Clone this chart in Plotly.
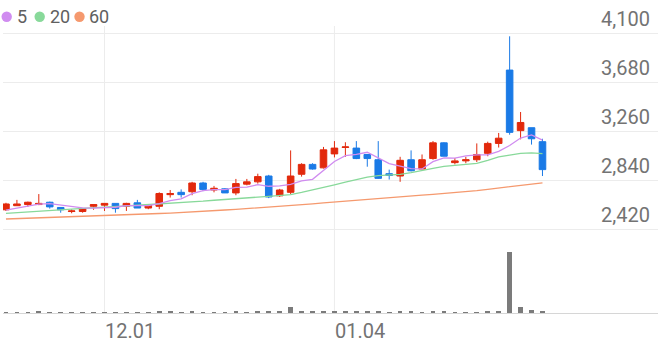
import plotly.graph_objects as go

# ---------------- data ----------------
dates = [
    "2023-11-20", "2023-11-21", "2023-11-22", "2023-11-23", "2023-11-24",
    "2023-11-27", "2023-11-28", "2023-11-29", "2023-11-30", "2023-12-01",
    "2023-12-04", "2023-12-05", "2023-12-06", "2023-12-07", "2023-12-08",
    "2023-12-11", "2023-12-12", "2023-12-13", "2023-12-14", "2023-12-15",
    "2023-12-18", "2023-12-19", "2023-12-20", "2023-12-21", "2023-12-22",
    "2023-12-26", "2023-12-27", "2023-12-28", "2024-01-02", "2024-01-03",
    "2024-01-04", "2024-01-05", "2024-01-08", "2024-01-09", "2024-01-10",
    "2024-01-11", "2024-01-12", "2024-01-15", "2024-01-16", "2024-01-17",
    "2024-01-18", "2024-01-19", "2024-01-22", "2024-01-23", "2024-01-24",
    "2024-01-25", "2024-01-26", "2024-01-29", "2024-01-30", "2024-01-31",
]

open_ = [2585, 2620, 2630, 2630, 2650, 2605, 2570, 2570, 2615, 2625,
         2640, 2615, 2645, 2600, 2615, 2715, 2735, 2740, 2815, 2755,
         2765, 2730, 2805, 2825, 2875, 2705, 2735, 2890, 2975, 2945,
         3065, 3120, 3115, 3060, 3015, 2895, 2875, 3015, 2935, 3025,
         3160, 2990, 3005, 3015, 3070, 3155, 3785, 3265, 3290, 3170]
high = [2645, 2670, 2655, 2720, 2655, 2605, 2590, 2600, 2630, 2640,
        2640, 2645, 2670, 2630, 2735, 2755, 2760, 2825, 2825, 2790,
        2770, 2850, 2850, 2895, 2885, 2765, 3095, 2985, 2985, 3125,
        3175, 3165, 3175, 3065, 3175, 2930, 3040, 3095, 3060, 3175,
        3165, 3030, 3040, 3155, 3170, 3245, 4075, 3425, 3290, 3195]
low = [2575, 2620, 2610, 2625, 2595, 2560, 2555, 2560, 2585, 2575,
       2560, 2575, 2600, 2590, 2590, 2690, 2690, 2710, 2745, 2735,
       2730, 2710, 2795, 2810, 2685, 2695, 2720, 2870, 2930, 2940,
       3035, 3040, 3020, 2955, 2850, 2845, 2825, 2915, 2935, 3015,
       3045, 2975, 2985, 2995, 3045, 3120, 3230, 3190, 3145, 2875]
close = [2635, 2635, 2650, 2640, 2610, 2585, 2575, 2595, 2630, 2640,
         2595, 2640, 2600, 2630, 2725, 2725, 2715, 2815, 2760, 2770,
         2730, 2810, 2825, 2870, 2695, 2755, 2875, 2975, 2935, 3100,
         3115, 3125, 3025, 3025, 2855, 2880, 3010, 2920, 3015, 3160,
         3045, 3005, 3015, 3060, 3155, 3200, 3250, 3335, 3195, 2930]

ma5 = [2583, 2600, 2617, 2634, 2638, 2624, 2612, 2601, 2599, 2605,
       2607, 2620, 2620, 2620, 2638, 2664, 2679, 2723, 2749, 2758,
       2759, 2778, 2780, 2801, 2787, 2791, 2804, 2833, 2847, 2927,
       3000, 3050, 3061, 3079, 3030, 2982, 2959, 2938, 2936, 2998,
       3031, 3029, 3049, 3057, 3057, 3087, 3137, 3201, 3228, 3183]
ma20 = [2555, 2560, 2566, 2572, 2578, 2584, 2590, 2597, 2604, 2611,
        2615, 2619, 2624, 2629, 2634, 2640, 2645, 2651, 2659, 2667,
        2675, 2682, 2688, 2694, 2700, 2706, 2716, 2734, 2754, 2776,
        2799, 2822, 2846, 2866, 2878, 2884, 2890, 2905, 2920, 2940,
        2958, 2968, 2976, 2984, 3010, 3040, 3055, 3070, 3074, 3068]
ma60 = [2506, 2509, 2512, 2515, 2518, 2521, 2524, 2527, 2530, 2533,
        2537, 2541, 2545, 2549, 2553, 2557, 2561, 2566, 2571, 2577,
        2583, 2589, 2595, 2601, 2607, 2614, 2621, 2628, 2636, 2644,
        2652, 2660, 2668, 2676, 2684, 2692, 2699, 2705, 2711, 2717,
        2724, 2731, 2739, 2749, 2760, 2771, 2783, 2794, 2806, 2817]

volume = [100, 80, 90, 150, 110, 90, 80, 90, 100, 120,
          130, 110, 140, 100, 220, 150, 130, 190, 140, 120,
          110, 180, 130, 160, 220, 170, 900, 250, 210, 330,
          200, 170, 190, 150, 250, 130, 210, 170, 140, 190,
          150, 100, 90, 140, 190, 160, 9000, 850, 400, 260]

price_ticks = [2420, 2840, 3260, 3680, 4100]
date_ticks = ["2023-12-01", "2024-01-04"]
date_tick_labels = ["12.01", "01.04"]
legend_labels = ["5", "20", "60"]

# ---------------- style / layout ----------------
W, H = 658, 342
ML, MR, MT, MB = 3, 0, 0, 29
PW = W - ML - MR
PH = H - MT - MB


def px_x(p):
    return (p - ML) / PW


def px_y(p):
    return (H - MB - p) / PH


RED = "#e2290c"
BLUE = "#1a7ae6"
PURPLE = "#d08cf0"
GREEN = "#88d99a"
ORANGE = "#f5996e"
GRID = "#ececec"
FONT = "Roboto"
TXT = "#737373"

fig = go.Figure()
fig.add_trace(go.Candlestick(
    x=dates, open=open_, high=high, low=low, close=close,
    xaxis="x", yaxis="y",
    increasing=dict(line=dict(color=RED, width=1), fillcolor=RED),
    decreasing=dict(line=dict(color=BLUE, width=1), fillcolor=BLUE),
    whiskerwidth=0, showlegend=False, hoverinfo="skip",
))
for vals, col in [(ma60, ORANGE), (ma20, GREEN), (ma5, PURPLE)]:
    fig.add_trace(go.Scatter(
        x=dates, y=vals, mode="lines", xaxis="x", yaxis="y",
        line=dict(color=col, width=1.3), showlegend=False, hoverinfo="skip",
    ))
fig.add_trace(go.Bar(
    x=dates, y=volume, xaxis="x2", yaxis="y2",
    marker=dict(color="#7b7b7b", line=dict(width=0)), width=0.43,
    showlegend=False, hoverinfo="skip",
))

split = px_y(240)
xr = [-0.27, 59.55]
common_x = dict(
    type="category", range=xr, showgrid=False,
    tickvals=date_ticks, ticktext=date_tick_labels, zeroline=False,
    ticks="", rangeslider=dict(visible=False), fixedrange=True,
)
fig.update_layout(
    width=W, height=H,
    margin=dict(l=ML, r=MR, t=MT, b=MB, pad=0),
    paper_bgcolor="white", plot_bgcolor="white",
    font=dict(family=FONT, size=18, color=TXT),
    boxgap=0.25, boxgroupgap=0.2,
    bargap=0,
    xaxis=dict(common_x, anchor="y", domain=[0, 1], showticklabels=False, showline=False),
    xaxis2=dict(common_x, anchor="y2", domain=[0, 1], matches="x", showticklabels=True,
                ticklabelposition="outside right", showline=True, linecolor="#d6d6d6",
                linewidth=1, tickfont=dict(family=FONT, size=20, color=TXT)),
    yaxis=dict(domain=[split, 1], range=[2325.5, 2420 + (229 - MT) * 8.589], side="right",
               tickvals=price_ticks, tickformat=",", ticklabelposition="inside",
               ticklabelshift=-14, ticklabelstandoff=5,
               showgrid=True, gridcolor=GRID, gridwidth=1, zeroline=False, showline=False,
               ticks="", tickfont=dict(family=FONT, size=20, color=TXT), fixedrange=True),
    yaxis2=dict(domain=[0, split], range=[0, 10700], showgrid=False, showticklabels=False,
                zeroline=False, showline=False, ticks="", fixedrange=True),
    showlegend=False,
)

# vertical date gridlines (from volume baseline up to the top of the price area)
for d in date_ticks:
    fig.add_shape(type="line", xref="x2", yref="paper", x0=d, x1=d,
                  y0=0, y1=px_y(26), layer="below",
                  line=dict(color=GRID, width=1))

# legend (circles + labels)
leg_circles = [(6.7, PURPLE), (39.7, GREEN), (79.5, ORANGE)]
leg_text_x = [17.0, 50.0, 89.0]
for (cx, col), tx, lab in zip(leg_circles, leg_text_x, legend_labels):
    fig.add_shape(type="circle", xref="paper", yref="paper",
                  x0=px_x(cx - 5.2), x1=px_x(cx + 5.2),
                  y0=px_y(16.7 + 5.2), y1=px_y(16.7 - 5.2),
                  fillcolor=col, line=dict(width=0))
    fig.add_annotation(text=lab, xref="paper", yref="paper", x=px_x(tx - 2), y=px_y(16.5),
                       xanchor="left", yanchor="middle", showarrow=False,
                       font=dict(family=FONT, size=18, color="#606060"))

fig.write_html("out.html")
